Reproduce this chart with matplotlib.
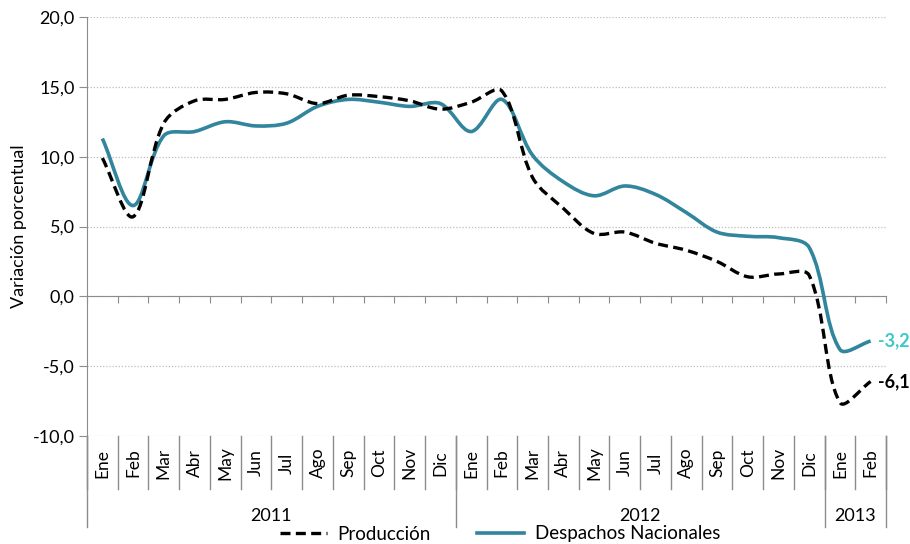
import numpy as np
import matplotlib
matplotlib.use('Agg')
import matplotlib.pyplot as plt
from matplotlib.path import Path
from matplotlib.patches import PathPatch
from matplotlib.lines import Line2D

months = ['Ene', 'Feb', 'Mar', 'Abr', 'May', 'Jun', 'Jul', 'Ago', 'Sep', 'Oct', 'Nov', 'Dic',
          'Ene', 'Feb', 'Mar', 'Abr', 'May', 'Jun', 'Jul', 'Ago', 'Sep', 'Oct', 'Nov', 'Dic',
          'Ene', 'Feb']
years = ['2011', '2012', '2013']
year_counts = [12, 12, 2]
produccion = [9.9, 5.7, 12.4, 14.0, 14.1, 14.6, 14.5, 13.8, 14.4, 14.3, 14.0, 13.4,
              13.9, 14.7, 8.5, 6.3, 4.5, 4.6, 3.8, 3.3, 2.5, 1.4, 1.6, 1.5,
              -7.6, -6.1]
despachos = [11.3, 6.5, 11.5, 11.8, 12.5, 12.2, 12.4, 13.6, 14.1, 13.9, 13.6, 13.8,
             11.8, 14.1, 10.1, 8.2, 7.2, 7.9, 7.3, 6.0, 4.6, 4.3, 4.2, 3.5,
             -3.8, -3.2]
y_ticks = [-10, -5, 0, 5, 10, 15, 20]

plt.rcParams['font.family'] = ['Lato', 'DejaVu Sans']
FS = 13
GRAY = '#8C8C8C'
TEAL = '#31859C'

fig = plt.figure(figsize=(9.10, 5.44), dpi=100)
ax = fig.add_axes([87/910, 1-436/544, (886-87)/910, (436-17)/544])
ax.set_xlim(-0.5, len(months)-0.5)
ax.set_ylim(-10, 20)


def smooth_path(xs, ys):
    # Excel-style smoothed line: Bezier segments, tangents weighted by
    # neighbouring segment lengths measured in display space
    disp = ax.transData.transform(np.column_stack([xs, ys]).astype(float))
    n = len(disp)
    verts = [disp[0]]
    codes = [Path.MOVETO]
    cin = [None]*n
    cout = [None]*n
    for i in range(n):
        pp = disp[max(i-1, 0)]
        pc = disp[i]
        pn = disp[min(i+1, n-1)]
        T = pn - pp
        d1 = np.hypot(*(pc - pp))
        d2 = np.hypot(*(pn - pc))
        s = d1 + d2 if d1 + d2 > 0 else 1.0
        cout[i] = pc + T * (d2 / s) / 3.0
        cin[i] = pc - T * (d1 / s) / 3.0
    for i in range(n-1):
        verts += [cout[i], cin[i+1], disp[i+1]]
        codes += [Path.CURVE4]*3
    return Path(verts, codes)


x = np.arange(len(months))
ax.add_patch(PathPatch(smooth_path(x, despachos), fill=False, edgecolor=TEAL,
                       lw=2.6, capstyle='butt', zorder=3, transform=None))
ax.add_patch(PathPatch(smooth_path(x, produccion), fill=False, edgecolor='black',
                       lw=2.4, linestyle=(0, (3, 1.6)), capstyle='butt', zorder=4,
                       transform=None))

ax.set_yticks(y_ticks)
ax.set_yticklabels([f"{v:.1f}".replace('.', ',') for v in y_ticks], fontsize=FS)
ax.yaxis.grid(True, linestyle=(0, (1, 1.5)), color='#BFBFBF', lw=0.9)
ax.set_axisbelow(True)
ax.tick_params(axis='y', length=6, color=GRAY, pad=3)

for s in ['top', 'right']:
    ax.spines[s].set_visible(False)
ax.spines['left'].set_color(GRAY)
ax.spines['bottom'].set_color(GRAY)
ax.spines['bottom'].set_position(('data', 0))
ax.set_xticks(np.arange(len(months)+1) - 0.5)
ax.set_xticklabels([])
ax.tick_params(axis='x', length=5, color=GRAY, direction='out')

ax.set_ylabel('Variación porcentual', fontsize=FS, labelpad=4)

tr = ax.get_xaxis_transform()
h = 419.0
for i, m in enumerate(months):
    ax.text(i, (436-463)/h, m, rotation=90, ha='center', va='center',
            fontsize=12.5, transform=tr, clip_on=False)
for k in range(len(months)+1):
    ax.plot([k-0.5, k-0.5], [0, (436-489)/h], color=GRAY, lw=1.0,
            transform=tr, clip_on=False)
start = 0
bounds = [0]
for y, c in zip(years, year_counts):
    ax.text(start + c/2 - 0.5, (436-516)/h, y, ha='center', va='center',
            fontsize=FS, transform=tr, clip_on=False)
    start += c
    bounds.append(start)
for b in bounds:
    ax.plot([b-0.5, b-0.5], [0, (436-527)/h], color=GRAY, lw=1.0,
            transform=tr, clip_on=False)

ax.annotate('-3,2', xy=(len(months)-1, despachos[-1]), xytext=(5, 0),
            textcoords='offset points', color='#3CC8C8', fontweight='bold',
            fontsize=FS, va='center', ha='left', annotation_clip=False)
ax.annotate('-6,1', xy=(len(months)-1, produccion[-1]), xytext=(5, 0),
            textcoords='offset points', color='black', fontweight='bold',
            fontsize=FS, va='center', ha='left', annotation_clip=False)

handles = [Line2D([], [], color='black', lw=2.4, linestyle=(0, (3, 1.6))),
           Line2D([], [], color=TEAL, lw=2.6)]
fig.legend(handles, ['Producción', 'Despachos Nacionales'], loc='center',
           bbox_to_anchor=(500/910, 10/544), ncol=2, frameon=False,
           fontsize=13.5, handlelength=2.5, handletextpad=0.55, columnspacing=2.5,
           borderpad=0, borderaxespad=0)

fig.savefig('out.png', dpi=100)
